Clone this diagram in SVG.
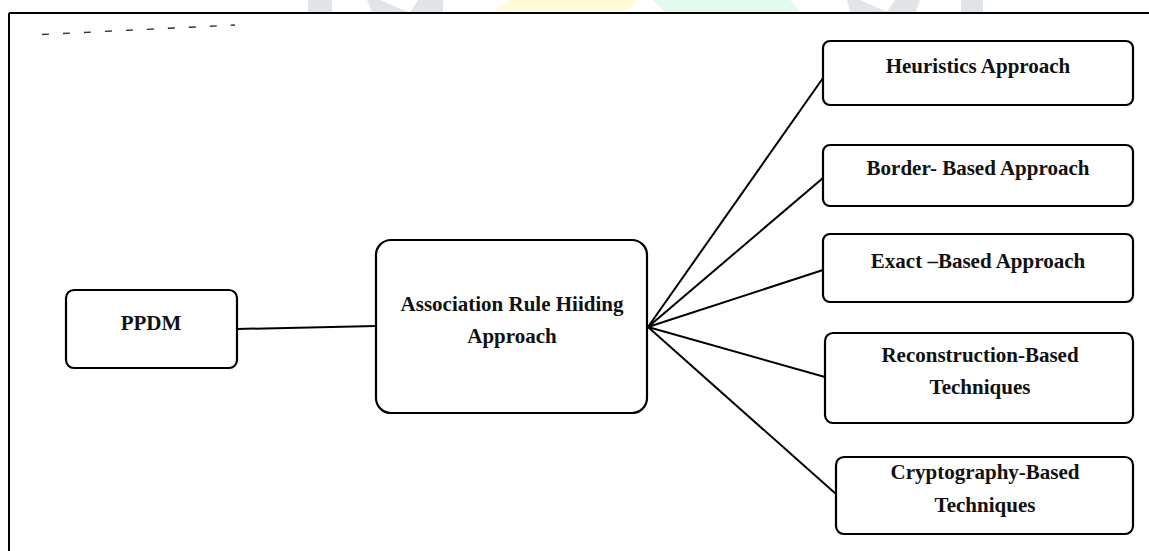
<svg xmlns="http://www.w3.org/2000/svg" width="1149" height="551" viewBox="0 0 1149 551">
<style>
.box{fill:#fff;stroke:#000;stroke-width:2.2}
.t{font-family:"Liberation Serif","Times New Roman",serif;font-weight:bold;font-size:21px;fill:#111;text-anchor:middle}
.c{stroke:#000;stroke-width:2;fill:none}
.wm{stroke:none}
</style>
<rect width="1149" height="551" fill="#fff"/>
<g id="watermark">
<polygon class="wm" points="308,0 332,0 332,12 308,12" fill="#dfe5e8"/>
<polygon class="wm" points="367,0 380,0 408,12 372,12" fill="#dfe5e8"/>
<polygon class="wm" points="418,0 443,0 443,12 410,12" fill="#dfe5e8"/>
<polygon class="wm" points="510,0 638,0 625,12 493,12" fill="#fffbd9"/>
<polygon class="wm" points="652,0 790,0 801,12 665,12" fill="#e3fbee"/>
<polygon class="wm" points="847,0 860,0 887,12 850,12" fill="#dfe5e8"/>
<polygon class="wm" points="895,0 920,0 916,12 887,12" fill="#dfe5e8"/>
<polygon class="wm" points="961,0 983,0 983,12 961,12" fill="#dfe5e8"/>
</g>
<g id="frame">
<line x1="9" y1="13" x2="1149" y2="13" stroke="#000" stroke-width="2"/>
<line x1="9" y1="13" x2="9" y2="551" stroke="#000" stroke-width="2"/>
</g>
<g id="dashes" stroke="#333" stroke-width="1.4">
<line x1="42" y1="34.5" x2="235" y2="25" stroke-dasharray="7,14"/>
</g>
<g id="connectors">
<line class="c" x1="237" y1="329" x2="376" y2="326"/>
<line class="c" x1="648" y1="327" x2="823" y2="78" stroke-width="1.6"/>
<line class="c" x1="648" y1="327" x2="823" y2="178"/>
<line class="c" x1="648" y1="327" x2="823" y2="270"/>
<line class="c" x1="648" y1="327" x2="825" y2="377"/>
<line class="c" x1="648" y1="327" x2="836" y2="494"/>
</g>
<g id="ppdm">
<rect class="box" x="66" y="290" width="171" height="78" rx="8"/>
<text class="t" x="151" y="330">PPDM</text>
</g>
<g id="arh">
<rect class="box" x="376" y="240" width="271" height="173" rx="15"/>
<text class="t" x="512" y="311">Association Rule Hiiding</text>
<text class="t" x="512" y="343">Approach</text>
</g>
<g id="heuristics">
<rect class="box" x="823" y="41" width="310" height="64" rx="7"/>
<text class="t" x="978" y="73">Heuristics Approach</text>
</g>
<g id="border">
<rect class="box" x="823" y="145" width="310" height="61" rx="7"/>
<text class="t" x="978" y="175">Border- Based Approach</text>
</g>
<g id="exact">
<rect class="box" x="823" y="234" width="310" height="68" rx="7"/>
<text class="t" x="978" y="268">Exact –Based Approach</text>
</g>
<g id="reconstruction">
<rect class="box" x="825" y="333" width="308" height="90" rx="8"/>
<text class="t" x="980" y="362">Reconstruction-Based</text>
<text class="t" x="980" y="394">Techniques</text>
</g>
<g id="cryptography">
<rect class="box" x="836" y="457" width="297" height="77" rx="8"/>
<text class="t" x="985" y="479">Cryptography-Based</text>
<text class="t" x="985" y="512">Techniques</text>
</g>
</svg>
